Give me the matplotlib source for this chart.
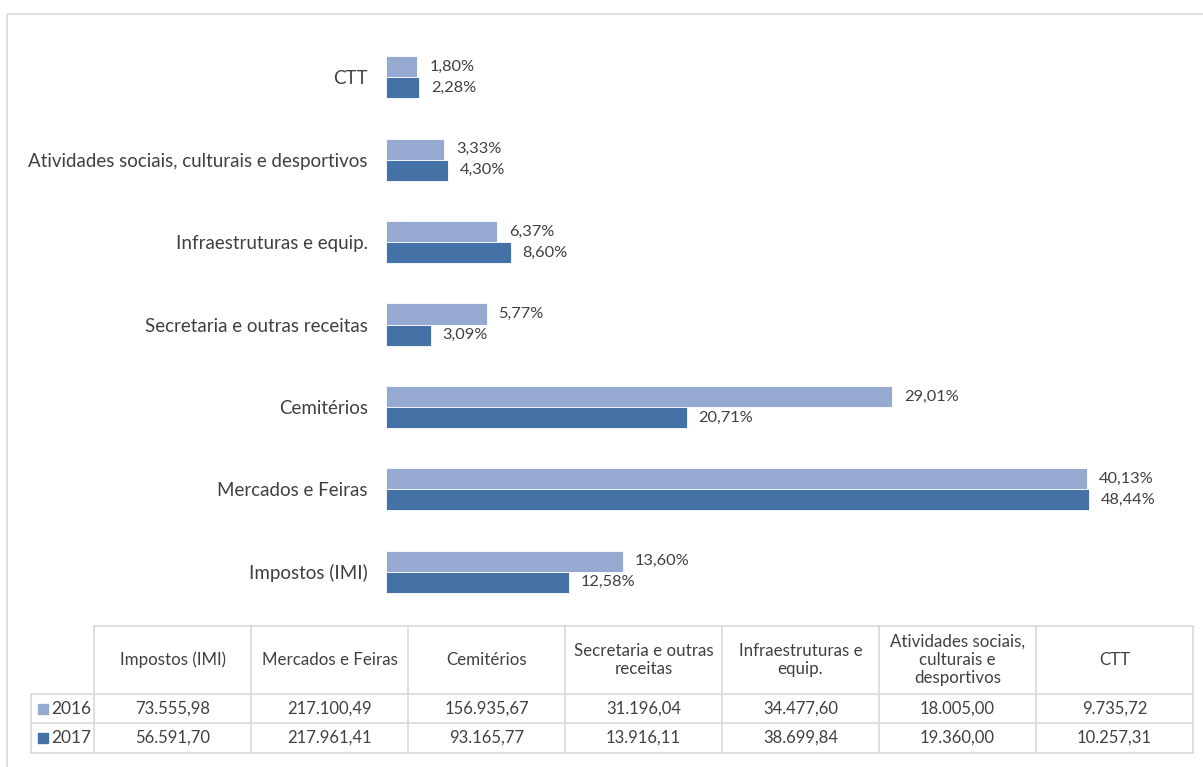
import matplotlib.pyplot as plt
import numpy as np
from matplotlib.patches import Rectangle

plt.rcParams['font.family'] = ['Lato', 'DejaVu Sans']

# receitas por rubrica (euros)
categorias = ["Impostos (IMI)", "Mercados e Feiras", "Cemitérios",
              "Secretaria e outras receitas", "Infraestruturas e equip.",
              "Atividades sociais, culturais e desportivos", "CTT"]
cabecalhos = ["Impostos (IMI)", "Mercados e Feiras", "Cemitérios",
              "Secretaria e outras\nreceitas", "Infraestruturas e\nequip.",
              "Atividades sociais,\nculturais e\ndesportivos", "CTT"]
anos = ["2016", "2017"]
valores_2016 = [73555.98, 217100.49, 156935.67, 31196.04, 34477.60, 18005.00, 9735.72]
valores_2017 = [56591.70, 217961.41, 93165.77, 13916.11, 38699.84, 19360.00, 10257.31]

cores = ["#95A9D1", "#4472A7"]
cinza = "#404040"
linha = "#D9D9D9"


def fmt_euro(v):
    s = f"{v:,.2f}"
    return s.replace(",", "X").replace(".", ",").replace("X", ".")


def fmt_pct(v):
    return f"{v:.2f}%".replace(".", ",")


W, H = 1203, 767
fig = plt.figure(figsize=(W / 100, H / 100), dpi=100)

# camada de fundo em pixels para moldura e tabela
fundo = fig.add_axes([0, 0, 1, 1])
fundo.set_xlim(0, W)
fundo.set_ylim(H, 0)
fundo.axis("off")
fundo.add_patch(Rectangle((7, 14), W, H, fill=False, edgecolor=linha, lw=1.2))

# grafico de barras
ax = fig.add_axes([386 / W, 1 - 613 / H, (1195 - 386) / W, (613 - 36) / H])
y = np.arange(len(categorias))
h = 0.255
series = [valores_2016, valores_2017]
for k, vals in enumerate(series):
    total = sum(vals)
    pos = y + h / 2 if k == 0 else y - h / 2
    barras = ax.barh(pos, vals, height=h, color=cores[k], edgecolor="white", linewidth=0.6)
    for b, v in zip(barras, vals):
        ax.annotate(fmt_pct(v / total * 100), (b.get_width(), b.get_y() + h / 2),
                    xytext=(8.5, 0), textcoords="offset points", va="center", ha="left",
                    fontsize=11.8, color=cinza)

ax.set_xlim(0, 250700)
ax.set_ylim(-0.5, len(categorias) - 0.5)
ax.set_yticks(y)
ax.set_yticklabels(categorias, fontsize=13.5, color=cinza)
ax.tick_params(axis="y", length=0, pad=13)
ax.set_xticks([])
for s in ax.spines.values():
    s.set_visible(False)

# tabela de dados por baixo do grafico
x0, larg = 94, 157
xs = [x0 + i * larg for i in range(len(categorias) + 1)]
y_topo, y_cab, y_r1, y_r2 = 626, 694, 723, 753
rot_x = 31

fundo.plot([xs[0], xs[-1]], [y_topo, y_topo], color=linha, lw=1.2)
for yy in [y_cab, y_r1, y_r2]:
    fundo.plot([rot_x, xs[-1]], [yy, yy], color=linha, lw=1.2)
for xx in xs:
    fundo.plot([xx, xx], [y_topo, y_r2], color=linha, lw=1.2)
fundo.plot([rot_x, rot_x], [y_cab, y_r2], color=linha, lw=1.2)

for i, cab in enumerate(cabecalhos):
    fundo.text((xs[i] + xs[i + 1]) / 2, (y_topo + y_cab) / 2, cab, ha="center", va="center",
               fontsize=12.2, color=cinza, linespacing=1.15)

linhas = [(y_cab, y_r1), (y_r1, y_r2)]
for k, vals in enumerate(series):
    ya, yb = linhas[k]
    ym = (ya + yb) / 2
    fundo.add_patch(Rectangle((rot_x + 7, ym - 5), 10, 10, color=cores[k]))
    fundo.text(rot_x + 20, ym, anos[k], ha="left", va="center", fontsize=12.5, color=cinza)
    for i, v in enumerate(vals):
        fundo.text((xs[i] + xs[i + 1]) / 2, ym, fmt_euro(v), ha="center", va="center",
                   fontsize=12, color=cinza)

fig.savefig("out.png", dpi=100)
